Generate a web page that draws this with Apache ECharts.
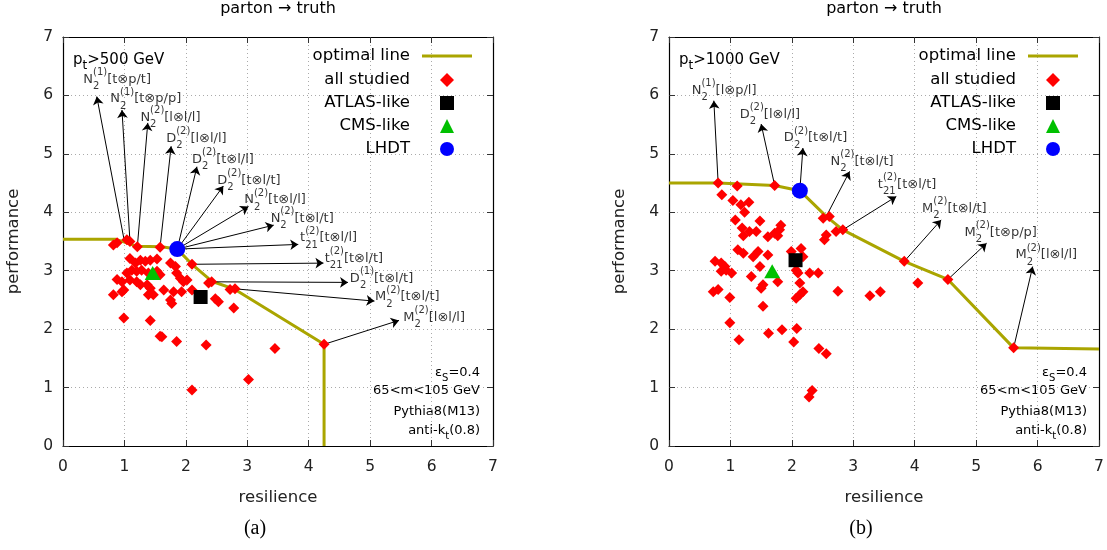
<!DOCTYPE html>
<html>
<head>
<meta charset="utf-8">
<script src="https://cdn.jsdelivr.net/npm/echarts@6/dist/echarts.min.js"></script>
<style>
  html, body { margin: 0; padding: 0; background: #fff; }
  #chart { width: 1107px; height: 550px; }
</style>
</head>
<body>
<div id="chart"></div>
<script>
const FONT = "DejaVu Sans";
const xTicks = [0, 1, 2, 3, 4, 5, 6, 7];
const yTicks = [0, 1, 2, 3, 4, 5, 6, 7];

// (a) pt > 500 GeV
const leftFront = [[0, 3.54], [0.85, 3.54], [1.2, 3.42], [1.6, 3.41], [1.86, 3.37], [2.1, 3.11],
  [2.42, 2.82], [2.8, 2.68], [4.25, 1.74], [4.25, 0]];
const leftStudied = [
  [0.82, 3.44], [0.88, 3.48], [1.04, 3.53], [1.09, 3.5], [1.21, 3.41], [1.58, 3.4],
  [1.09, 3.21], [1.18, 3.13], [1.26, 3.18], [1.34, 3.16], [1.42, 3.18], [1.53, 3.2],
  [1.12, 3.01], [1.2, 2.99], [1.04, 2.96], [1.28, 3.01], [1.39, 2.96], [1.53, 2.99],
  [1.58, 2.93], [0.88, 2.85], [0.96, 2.81], [1.09, 2.84], [1.2, 2.81], [1.26, 2.76],
  [1.37, 2.76], [1.42, 2.7], [1.64, 2.67], [1.75, 3.13], [1.83, 3.07], [1.85, 2.96],
  [1.91, 2.87], [1.96, 2.81], [2.02, 2.84], [2.1, 2.67], [1.8, 2.64], [1.93, 2.64],
  [1.75, 2.5], [1.77, 2.44], [0.82, 2.59], [0.96, 2.64], [0.99, 2.67], [1.39, 2.59],
  [1.47, 2.59], [2.1, 3.11], [2.37, 2.79], [2.42, 2.81], [2.72, 2.68], [2.8, 2.69],
  [2.48, 2.52], [2.53, 2.47], [2.78, 2.36], [0.99, 2.19], [1.42, 2.15], [1.58, 1.88],
  [1.61, 1.87], [1.85, 1.79], [2.33, 1.73], [3.45, 1.67], [3.02, 1.14], [2.1, 0.96],
  [4.25, 1.74]];
const leftAtlas = [[2.24, 2.55]];
const leftCms = [[1.46, 2.96]];
const leftLhdt = [[1.86, 3.37]];
// [fromX, fromY, headX, headY, labelX, labelY, symbol, sub, sup, tail]
const leftNotes = [
  [1.0, 3.5, 0.55, 5.98, 0.33, 6.27, "N", "2", "(1)", "[t⊗p/t]"],
  [1.09, 3.5, 0.96, 5.75, 0.77, 5.94, "N", "2", "(1)", "[t⊗p/p]"],
  [1.21, 3.41, 1.38, 5.53, 1.26, 5.62, "N", "2", "(2)", "[l⊗l/l]"],
  [1.58, 3.4, 1.76, 5.13, 1.68, 5.26, "D", "2", "(2)", "[l⊗l/l]"],
  [1.86, 3.37, 2.18, 4.78, 2.1, 4.9, "D", "2", "(2)", "[t⊗l/l]"],
  [1.86, 3.37, 2.61, 4.45, 2.51, 4.55, "D", "2", "(2)", "[t⊗l/t]"],
  [1.86, 3.37, 3.02, 4.1, 2.95, 4.21, "N", "2", "(2)", "[t⊗l/l]"],
  [1.86, 3.37, 3.43, 3.78, 3.38, 3.9, "N", "2", "(2)", "[t⊗l/t]"],
  [1.86, 3.37, 3.83, 3.45, 3.86, 3.56, "t", "21", "(2)", "[t⊗l/l]"],
  [2.1, 3.11, 4.24, 3.13, 4.26, 3.21, "t", "21", "(2)", "[t⊗l/t]"],
  [2.42, 2.81, 4.64, 2.8, 4.67, 2.87, "D", "2", "(1)", "[t⊗l/t]"],
  [2.8, 2.69, 5.07, 2.48, 5.08, 2.55, "M", "2", "(2)", "[t⊗l/t]"],
  [4.25, 1.74, 5.47, 2.15, 5.54, 2.2, "M", "2", "(2)", "[l⊗l/l]"]];

// (b) pt > 1000 GeV
const rightFront = [[0, 4.5], [0.8, 4.5], [1.72, 4.46], [2.13, 4.37], [2.56, 3.93], [2.83, 3.7],
  [3.83, 3.16], [4.54, 2.85], [5.61, 1.68], [7, 1.66]];
const rightStudied = [
  [0.8, 4.5], [1.11, 4.45], [1.72, 4.46], [0.86, 4.3], [1.04, 4.2], [1.17, 4.13],
  [1.3, 4.17], [1.23, 4.0], [1.08, 3.87], [1.48, 3.85], [1.19, 3.73], [1.31, 3.67],
  [1.42, 3.67], [1.82, 3.78], [1.8, 3.7], [1.72, 3.64], [1.21, 3.6], [1.61, 3.58],
  [1.77, 3.6], [2.51, 3.9], [2.61, 3.93], [2.72, 3.67], [2.83, 3.7], [2.56, 3.61],
  [2.53, 3.53], [1.12, 3.36], [1.21, 3.3], [1.37, 3.24], [1.45, 3.33], [1.61, 3.27],
  [0.75, 3.16], [0.85, 3.13], [0.91, 3.07], [0.93, 3.01], [1.02, 2.96], [0.85, 2.99],
  [1.48, 3.07], [1.34, 2.9], [1.99, 3.33], [2.15, 3.38], [2.18, 3.24], [2.07, 3.01],
  [2.1, 2.96], [2.29, 2.96], [2.43, 2.96], [1.77, 2.81], [1.5, 2.7], [1.53, 2.76],
  [2.13, 2.79], [2.18, 2.64], [2.13, 2.59], [2.07, 2.53], [0.72, 2.64], [0.8, 2.68],
  [0.99, 2.54], [1.53, 2.39], [2.75, 2.65], [3.27, 2.57], [3.44, 2.64], [4.05, 2.79],
  [0.99, 2.11], [1.14, 1.82], [1.62, 1.93], [1.84, 1.99], [2.08, 2.01], [2.03, 1.78],
  [2.44, 1.67], [2.56, 1.58], [2.33, 0.95], [2.28, 0.84], [3.83, 3.16], [4.54, 2.85],
  [5.61, 1.68]];
const rightAtlas = [[2.06, 3.18]];
const rightCms = [[1.68, 2.99]];
const rightLhdt = [[2.13, 4.37]];
const rightNotes = [
  [0.8, 4.5, 0.73, 5.91, 0.37, 6.08, "N", "2", "(1)", "[l⊗p/l]"],
  [1.72, 4.46, 1.5, 5.51, 1.15, 5.67, "D", "2", "(2)", "[l⊗l/l]"],
  [2.13, 4.37, 2.18, 5.1, 1.87, 5.27, "D", "2", "(2)", "[t⊗l/t]"],
  [2.56, 3.93, 2.94, 4.7, 2.63, 4.87, "N", "2", "(2)", "[t⊗l/t]"],
  [2.83, 3.7, 3.7, 4.27, 3.4, 4.47, "t", "21", "(2)", "[t⊗l/t]"],
  [3.83, 3.16, 4.43, 3.87, 4.12, 4.07, "M", "2", "(2)", "[t⊗l/t]"],
  [4.54, 2.85, 5.17, 3.47, 4.81, 3.65, "M", "2", "(2)", "[t⊗p/p]"],
  [5.61, 1.68, 5.92, 3.07, 5.64, 3.27, "M", "2", "(2)", "[l⊗l/l]"]];

const markerNames = ["all studied", "ATLAS-like", "CMS-like", "LHDT"];
const OLIVE = "#aaa500";

const noteRich = {
  b: { fontFamily: FONT, fontSize: 13, lineHeight: 24, color: "#000" },
  s: { fontFamily: FONT, fontSize: 10, lineHeight: 13, width: 0, verticalAlign: "bottom", color: "#000" },
  u: { fontFamily: FONT, fontSize: 10, lineHeight: 13, verticalAlign: "top", color: "#000" }
};

function panelSeries(i, front, studied, atlas, cms, lhdt, notes) {
  const ax = { xAxisIndex: i, yAxisIndex: i };
  return [
    Object.assign({ name: "optimal line", type: "line", data: front, symbol: "none",
      lineStyle: { color: OLIVE, width: 3 }, itemStyle: { color: OLIVE }, z: 2, silent: true }, ax),
    Object.assign({ type: "lines", coordinateSystem: "cartesian2d", silent: true, z: 3,
      symbol: ["none", "arrow"], symbolSize: [0, 8],
      lineStyle: { color: "#000", width: 1, opacity: 1 },
      data: notes.map(n => ({ coords: [[n[0], n[1]], [n[2], n[3]]] })) }, ax),
    Object.assign({ name: "all studied", type: "scatter", data: studied, symbol: "diamond",
      symbolSize: 11, itemStyle: { color: "#ff0000", opacity: 1 }, z: 4 }, ax),
    Object.assign({ name: "ATLAS-like", type: "scatter", data: atlas, symbol: "rect",
      symbolSize: 14, itemStyle: { color: "#000", opacity: 1 }, z: 5 }, ax),
    Object.assign({ name: "CMS-like", type: "scatter", data: cms, symbol: "triangle",
      symbolSize: [16, 14], itemStyle: { color: "#00c000", opacity: 1 }, z: 5 }, ax),
    Object.assign({ name: "LHDT", type: "scatter", data: lhdt, symbol: "circle",
      symbolSize: 16, itemStyle: { color: "#0000ff", opacity: 1 }, z: 5 }, ax),
    Object.assign({ type: "scatter", symbolSize: 0, silent: true, z: 6,
      data: notes.map(n => ({ value: [n[4], n[5]],
        label: { formatter: "{b|" + n[6] + "}{s|" + n[7] + "}{u|" + n[8] + "}{b|" + n[9] + "}" } })),
      label: { show: true, position: "right", distance: 0, rich: noteRich } }, ax)
  ];
}

function valueAxis(gridIndex, position, isMain, isX, name) {
  return {
    type: "value", gridIndex: gridIndex, position: position,
    min: 0, max: 7, interval: 1,
    name: isMain ? name : "", nameLocation: "middle",
    nameGap: isX ? 43 : 41, nameRotate: isX ? 0 : 90,
    nameTextStyle: { fontFamily: FONT, fontSize: 16.5, color: "#222" },
    axisLine: { show: true, onZero: false, lineStyle: { color: "#000", width: 1.2 } },
    axisTick: { show: true, inside: true, length: 6, lineStyle: { color: "#333" } },
    axisLabel: { show: isMain, fontFamily: FONT, fontSize: 15.5, color: "#222", margin: isX ? 13 : 10,
      formatter: v => String((isX ? xTicks : yTicks)[v]) },
    splitLine: { show: isMain, lineStyle: { color: "#aaa", type: [1, 3], width: 1 } }
  };
}

// the line entry and the marker entries need different icon boxes
function legendsFor(right) {
  const text = { fontFamily: FONT, fontSize: 16.5, color: "#000", lineHeight: 19 };
  return [
    { data: [{ name: "optimal line", icon: "rect" }], orient: "vertical", align: "right",
      right: right, top: 46.5, padding: 0, itemWidth: 50, itemHeight: 3, selectedMode: false,
      textStyle: Object.assign({ padding: [0, 7, 0, 0] }, text) },
    { data: markerNames, orient: "vertical", align: "right",
      right: right + 18, top: 70.5, padding: 0, itemGap: 4, itemWidth: 14, itemHeight: 14,
      selectedMode: false, textStyle: Object.assign({ padding: [0, 25, 0, 0] }, text) }
  ];
}

function plain(x, y, text, align, size) {
  return { type: "text", x: x, y: y, silent: true,
    style: { text: text, fontFamily: FONT, fontSize: size, fill: "#000", align: align, verticalAlign: "middle" } };
}
function richText(x, y, text, align, size) {
  return { type: "text", x: x, y: y, silent: true,
    style: { text: text, align: align, verticalAlign: "middle",
      rich: { a: { fontFamily: FONT, fontSize: size, lineHeight: size + 8, fill: "#000", color: "#000" },
              b: { fontFamily: FONT, fontSize: size - 3, lineHeight: size - 2, verticalAlign: "bottom", fill: "#000", color: "#000" } } } };
}

function panelText(x0, right, pt, caption) {
  return [
    plain(x0 + 215, 9, "parton → truth", "center", 16),
    richText(x0 + 10, 60, "{a|p}{b|t}{a|>" + pt + " GeV}", "left", 15),
    richText(right, 373, "{a|ε}{b|S}{a|=0.4}", "right", 13),
    plain(right, 391, "65<m<105 GeV", "right", 13),
    plain(right, 412, "Pythia8(M13)", "right", 13),
    richText(right, 431, "{a|anti-k}{b|t}{a|(0.8)}", "right", 13),
    { type: "text", x: x0 + 192, y: 529, silent: true,
      style: { text: caption, fontFamily: "Liberation Serif", fontSize: 20, fill: "#000",
        align: "center", verticalAlign: "middle" } }
  ];
}

const chart = echarts.init(document.getElementById("chart"), null, { renderer: "canvas" });
chart.setOption({
  animation: false,
  backgroundColor: "#fff",
  grid: [
    { left: 63, top: 37, width: 430, height: 409 },
    { left: 669, top: 37, width: 430, height: 409 }
  ],
  xAxis: [
    valueAxis(0, "bottom", true, true, "resilience"),
    valueAxis(1, "bottom", true, true, "resilience"),
    valueAxis(0, "top", false, true, ""),
    valueAxis(1, "top", false, true, "")
  ],
  yAxis: [
    valueAxis(0, "left", true, false, "performance"),
    valueAxis(1, "left", true, false, "performance"),
    valueAxis(0, "right", false, false, ""),
    valueAxis(1, "right", false, false, "")
  ],
  legend: legendsFor(635).concat(legendsFor(29)),
  series: panelSeries(0, leftFront, leftStudied, leftAtlas, leftCms, leftLhdt, leftNotes)
    .concat(panelSeries(1, rightFront, rightStudied, rightAtlas, rightCms, rightLhdt, rightNotes)),
  graphic: panelText(63, 480, 500, "(a)").concat(panelText(669, 1087, 1000, "(b)"))
});
</script>
</body>
</html>
